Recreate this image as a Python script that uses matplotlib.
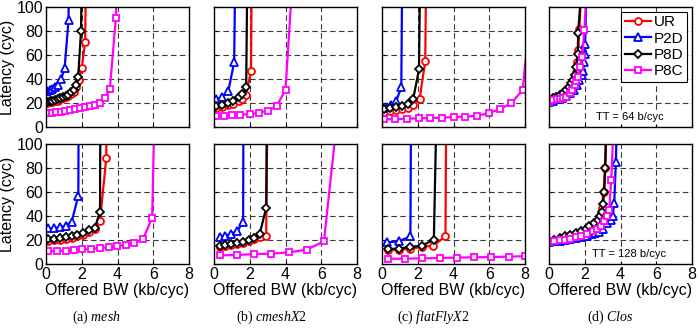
import matplotlib
matplotlib.use('Agg')
import matplotlib.pyplot as plt

# ---- data: offered bandwidth (kb/cyc) vs latency (cyc)
# top row: TT = 64 b/cyc
mesh64_ur_x = [0.05, 0.2, 0.35, 0.5, 0.65, 0.8, 0.95, 1.1, 1.25, 1.4, 1.55, 1.7, 1.85, 2.0, 2.19, 2.25]
mesh64_ur_y = [20, 20.5, 21, 21.5, 22, 23, 24, 25, 26, 27.5, 29.5, 33, 39, 49, 71, 150]
mesh64_p2d_x = [0.05, 0.2, 0.35, 0.5, 0.65, 0.85, 1.04, 1.26, 1.3]
mesh64_p2d_y = [30, 31, 32, 33, 35, 40, 49, 89, 150]
mesh64_p8d_x = [0.05, 0.2, 0.35, 0.5, 0.65, 0.8, 0.95, 1.1, 1.25, 1.4, 1.55, 1.7, 1.8, 1.96, 2.02]
mesh64_p8d_y = [21, 21.5, 22, 22.5, 23, 24, 25, 26, 27, 29, 31, 35, 42, 80, 150]
mesh64_p8c_x = [0.06, 0.33, 0.57, 0.83, 1.09, 1.35, 1.63, 1.91, 2.19, 2.46, 2.74, 3.02, 3.3, 3.57, 3.91, 4.0]
mesh64_p8c_y = [11.4, 11.9, 12.2, 12.7, 13.3, 14.1, 14.7, 15.5, 16.3, 17.5, 18.3, 19.7, 24.4, 31.3, 91, 150]

cmesh64_ur_x = [0.13, 0.44, 0.76, 1.09, 1.41, 1.59, 1.8, 2.07, 2.12]
cmesh64_ur_y = [16, 17, 18, 19.5, 21.5, 23, 27, 47, 150]
cmesh64_p2d_x = [0.1, 0.45, 0.8, 1.13, 1.2]
cmesh64_p2d_y = [23, 25, 30, 54, 150]
cmesh64_p8d_x = [0.13, 0.44, 0.76, 1.09, 1.41, 1.59, 1.8, 1.88]
cmesh64_p8d_y = [17.5, 18.6, 19.7, 22, 24.6, 27.4, 33.5, 150]
cmesh64_p8c_x = [0.13, 0.54, 1.0, 1.46, 2.02, 2.54, 3.04, 3.5, 4.0, 4.55]
cmesh64_p8c_y = [9, 9.4, 10, 10.2, 10.8, 12, 13.6, 17.5, 30.7, 160]

ffly64_ur_x = [0.09, 0.47, 0.8, 1.12, 1.46, 1.74, 2.1, 2.42, 2.48]
ffly64_ur_y = [12.7, 13.3, 14, 14.8, 16, 18, 23, 55, 150]
ffly64_p2d_x = [0.06, 0.28, 0.5, 0.8, 1.08, 1.14]
ffly64_p2d_y = [16, 17, 18.5, 22, 33, 150]
ffly64_p8d_x = [0.09, 0.47, 0.8, 1.12, 1.46, 1.74, 2.07, 2.15]
ffly64_p8d_y = [14.7, 15.5, 16.3, 17.5, 19, 23, 48, 150]
ffly64_p8c_x = [0.09, 0.75, 1.4, 2.06, 2.71, 3.36, 4.02, 4.67, 5.33, 5.98, 6.6, 7.23, 7.87, 8.4]
ffly64_p8c_y = [6.4, 6.6, 6.9, 7.2, 7.5, 7.8, 8.3, 8.6, 9.4, 11.5, 15, 19.7, 31, 110]

clos64_ur_x = [0.0, 0.2, 0.4, 0.6, 0.8, 1.0, 1.15, 1.3, 1.4, 1.5, 1.58, 1.64, 1.7, 1.8]
clos64_ur_y = [21.5, 23, 24.5, 26, 28, 30, 32.5, 36, 40, 46, 54, 64, 82, 115]
clos64_p2d_x = [0.0, 0.2, 0.45, 0.7, 0.95, 1.2, 1.4, 1.55, 1.7, 1.82, 1.89, 1.97, 2.04, 2.02, 2.1]
clos64_p2d_y = [21, 22, 23, 24, 25.5, 28, 31, 35, 39, 43, 47, 54, 61, 69.5, 115]
clos64_p8d_x = [0.0, 0.22, 0.4, 0.59, 0.78, 0.96, 1.1, 1.24, 1.35, 1.43, 1.52, 1.61, 1.63, 1.8]
clos64_p8d_y = [22, 23.8, 25, 26.6, 28.5, 30.7, 33, 36.3, 39.5, 43.2, 50, 61, 78.6, 112]
clos64_p8c_x = [0.0, 0.22, 0.45, 0.6, 0.78, 0.95, 1.15, 1.3, 1.43, 1.52, 1.61, 1.74, 1.85, 1.98, 2.1]
clos64_p8c_y = [21, 22.4, 23, 23.4, 23.8, 25, 28, 31, 35, 38, 42, 50, 58, 80.6, 112]

# bottom row: TT = 128 b/cyc
mesh128_ur_x = [0.09, 0.43, 0.76, 1.11, 1.44, 1.76, 2.09, 2.43, 2.74, 3.02, 3.37, 3.42]
mesh128_ur_y = [19.5, 19.8, 20.3, 21, 22, 23, 24.5, 26.5, 29, 36, 88, 150]
mesh128_p2d_x = [0.09, 0.43, 0.8, 1.13, 1.44, 1.81, 1.83]
mesh128_p2d_y = [29.6, 29.6, 30.8, 32, 35.3, 57, 150]
mesh128_p8d_x = [0.09, 0.43, 0.76, 1.11, 1.44, 1.76, 2.09, 2.43, 2.74, 3.02, 3.05]
mesh128_p8d_y = [20.8, 20.8, 21.6, 22.2, 23, 24, 25.8, 28.2, 30.4, 43.6, 150]
mesh128_p8c_x = [0.09, 0.61, 1.11, 1.57, 2.04, 2.54, 3.0, 3.52, 3.96, 4.48, 4.94, 5.43, 5.94, 6.1]
mesh128_p8c_y = [10.7, 10.7, 11.2, 11.8, 12.1, 12.6, 13.2, 14, 14.8, 15.9, 17.5, 20.8, 38.6, 150]

cmesh128_ur_x = [0.32, 0.64, 0.97, 1.29, 1.63, 1.94, 2.22, 2.56, 2.92, 3.0]
cmesh128_ur_y = [14.5, 15.3, 16, 16.8, 17.5, 18.8, 20.5, 22.5, 23.6, 150]
cmesh128_p2d_x = [0.32, 0.64, 0.97, 1.29, 1.63, 1.65]
cmesh128_p2d_y = [22.5, 23.6, 25.3, 27.2, 35, 150]
cmesh128_p8d_x = [0.32, 0.64, 0.97, 1.29, 1.63, 1.94, 2.22, 2.56, 2.92, 2.97]
cmesh128_p8d_y = [15.3, 16.1, 17, 17.5, 18, 19.7, 21.7, 25.3, 46.7, 150]
cmesh128_p8c_x = [0.32, 1.29, 2.26, 3.2, 4.19, 5.18, 6.15, 7.1]
cmesh128_p8c_y = [7.2, 7.5, 8.3, 8.6, 9.7, 11.9, 18.9, 150]

ffly128_ur_x = [0.34, 0.93, 1.59, 2.24, 2.86, 3.55, 3.6]
ffly128_ur_y = [11.4, 11.9, 12.8, 14.2, 15.3, 23, 150]
ffly128_p2d_x = [0.28, 0.93, 1.59, 1.63]
ffly128_p2d_y = [18, 18.9, 23, 150]
ffly128_p8d_x = [0.34, 0.93, 1.59, 2.24, 2.9, 3.08]
ffly128_p8d_y = [12.5, 12.8, 14.2, 15.3, 20.3, 150]
ffly128_p8c_x = [0.34, 1.31, 2.24, 3.23, 4.2, 5.14, 6.11, 7.1, 8.0]
ffly128_p8c_y = [4.4, 4.4, 4.7, 5, 5.3, 5.6, 5.8, 6.1, 6.5]

clos128_ur_x = [0.0, 0.3, 0.59, 0.9, 1.2, 1.52, 1.8, 2.05, 2.26, 2.5, 2.72, 2.85, 2.94, 3.05, 3.13, 3.2]
clos128_ur_y = [18.5, 19.5, 21, 22.3, 23.5, 25, 26.8, 28.5, 30.5, 33, 36, 40, 46.7, 60, 80, 120]
clos128_p2d_x = [0.0, 0.3, 0.6, 0.9, 1.2, 1.5, 1.8, 2.1, 2.4, 2.6, 2.8, 3.0, 3.26, 3.45, 3.56, 3.65, 3.74, 3.8]
clos128_p2d_y = [18.5, 19, 19.5, 20, 20.8, 21.7, 22.5, 23.5, 25, 26, 27, 29.5, 34, 37, 39.7, 50.8, 85, 120]
clos128_p8d_x = [0.0, 0.3, 0.59, 0.9, 1.2, 1.52, 1.8, 2.05, 2.26, 2.5, 2.72, 2.85, 2.94, 3.02, 3.09, 3.15, 3.22]
clos128_p8d_y = [18.9, 20, 21.7, 23, 24.3, 25.8, 27.5, 29.5, 31.4, 34, 37, 40, 43.3, 50, 60, 80, 120]
clos128_p8c_x = [0.0, 0.3, 0.59, 0.9, 1.2, 1.52, 1.8, 2.1, 2.44, 2.7, 2.9, 3.09, 3.25, 3.37, 3.48, 3.6]
clos128_p8c_y = [18.5, 19, 19.7, 20.3, 21, 22.5, 23.5, 25, 27.2, 29.5, 32, 35.5, 40, 45, 70, 110]

names = ['UR', 'P2D', 'P8D', 'P8C']
captions = [r'(a) $\mathit{mesh}$', r'(b) $\mathit{cmeshX2}$',
            r'(c) $\mathit{flatFlyX2}$', r'(d) $\mathit{Clos}$']
tt_labels = ['TT = 64 b/cyc', 'TT = 128 b/cyc']

panels = [
    [(mesh64_ur_x, mesh64_ur_y), (mesh64_p2d_x, mesh64_p2d_y), (mesh64_p8d_x, mesh64_p8d_y), (mesh64_p8c_x, mesh64_p8c_y)],
    [(cmesh64_ur_x, cmesh64_ur_y), (cmesh64_p2d_x, cmesh64_p2d_y), (cmesh64_p8d_x, cmesh64_p8d_y), (cmesh64_p8c_x, cmesh64_p8c_y)],
    [(ffly64_ur_x, ffly64_ur_y), (ffly64_p2d_x, ffly64_p2d_y), (ffly64_p8d_x, ffly64_p8d_y), (ffly64_p8c_x, ffly64_p8c_y)],
    [(clos64_ur_x, clos64_ur_y), (clos64_p2d_x, clos64_p2d_y), (clos64_p8d_x, clos64_p8d_y), (clos64_p8c_x, clos64_p8c_y)],
    [(mesh128_ur_x, mesh128_ur_y), (mesh128_p2d_x, mesh128_p2d_y), (mesh128_p8d_x, mesh128_p8d_y), (mesh128_p8c_x, mesh128_p8c_y)],
    [(cmesh128_ur_x, cmesh128_ur_y), (cmesh128_p2d_x, cmesh128_p2d_y), (cmesh128_p8d_x, cmesh128_p8d_y), (cmesh128_p8c_x, cmesh128_p8c_y)],
    [(ffly128_ur_x, ffly128_ur_y), (ffly128_p2d_x, ffly128_p2d_y), (ffly128_p8d_x, ffly128_p8d_y), (ffly128_p8c_x, ffly128_p8c_y)],
    [(clos128_ur_x, clos128_ur_y), (clos128_p2d_x, clos128_p2d_y), (clos128_p8d_x, clos128_p8d_y), (clos128_p8c_x, clos128_p8c_y)],
]

colors = ['#ff0000', '#0000ff', '#000000', '#ff00ff']
markers = ['o', '^', 'D', 's']
msizes = [5, 5.5, 4, 4.5]

plt.rcParams['font.family'] = ['Liberation Sans', 'DejaVu Sans']
plt.rcParams['mathtext.fontset'] = 'custom'
plt.rcParams['mathtext.rm'] = 'Liberation Serif'
plt.rcParams['mathtext.it'] = 'Liberation Serif:italic'

fig = plt.figure(figsize=(6.99, 3.30), dpi=100)

lefts = [46, 214, 382, 549]
tops = [7, 144]
W, H = 143, 120

for i, series in enumerate(panels):
    row, col = divmod(i, 4)
    ax = fig.add_axes([lefts[col] / 699, 1 - (tops[row] + H) / 330, W / 699, H / 330])
    for (x, y), c, m, ms, lab in zip(series, colors, markers, msizes, names):
        ax.plot(x, y, color=c, marker=m, markersize=ms, markerfacecolor='white',
                markeredgewidth=1.3, linewidth=1.6, label=lab)
    ax.set_xlim(0, 8)
    ax.set_ylim(0, 100)
    ax.set_xticks([0, 2, 4, 6, 8])
    ax.set_yticks([0, 20, 40, 60, 80, 100])
    # dashed grid, interior lines only
    for gx in [2, 4, 6]:
        ax.axvline(gx, color='#3a3a3a', lw=0.8, dashes=(5, 3), zorder=0)
    for gy in [20, 40, 60, 80]:
        ax.axhline(gy, color='#3a3a3a', lw=0.8, dashes=(5, 3), zorder=0)
    ax.tick_params(direction='in', length=2, labelsize=11.5, pad=2)
    for s in ax.spines.values():
        s.set_linewidth(1.0)
    if row == 0:
        ax.set_xticklabels([])
    else:
        ax.set_xlabel('Offered BW (kb/cyc)', fontsize=11.5, labelpad=1)
    if col > 0:
        ax.set_yticklabels([])
    else:
        ax.set_ylabel('Latency (cyc)', fontsize=11.5, labelpad=1)
    if col == 3:
        ax.text(4.5, 8, tt_labels[row], ha='center', va='center', fontsize=8,
                bbox=dict(facecolor='white', edgecolor='none', pad=1.5), zorder=1)
        if row == 0:
            ax.legend(loc='upper right', fontsize=11, frameon=True, fancybox=False,
                      edgecolor='black', framealpha=1, handlelength=1.7,
                      handletextpad=0.2, labelspacing=0.15, borderpad=0.25,
                      borderaxespad=0.3).get_frame().set_linewidth(0.8)

cap_x = [96, 272, 433, 610]
for cx, cap in zip(cap_x, captions):
    fig.text(cx / 699, 1 - 317 / 330, cap, ha='center', va='center', fontsize=10,
             family='Liberation Serif')

plt.savefig('out.png', dpi=100)
